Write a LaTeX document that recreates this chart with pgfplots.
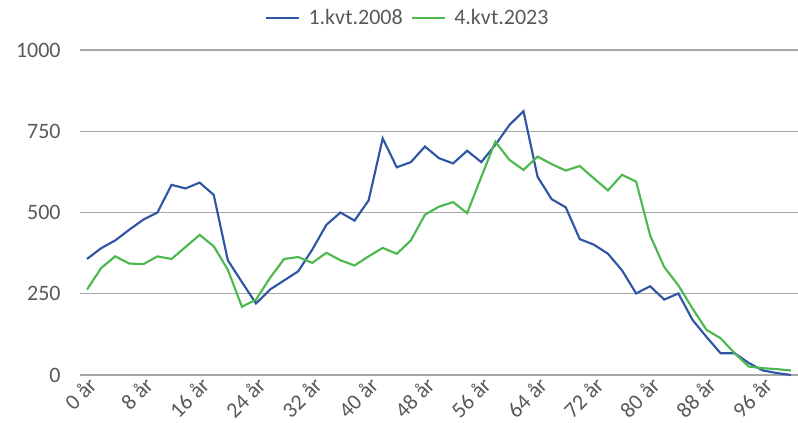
\documentclass[border=0pt]{standalone}
\usepackage{pgfplots}
\pgfplotsset{compat=1.18}
\usepackage{pgfplotstable}
\usepackage{fontspec}
\setmainfont{Carlito}
\definecolor{serA}{HTML}{2F55A4}
\definecolor{serB}{HTML}{4DB84D}
\definecolor{gridc}{HTML}{A6A6A6}
\definecolor{txt}{HTML}{595959}
\pgfplotstableread{
age a b
0 357 263
2 390 329
4 414 365
6 447 343
8 478 341
10 500 365
12 585 357
14 574 394
16 592 431
18 554 396
20 353 324
22 286 210
24 220 232
26 263 299
28 291 357
30 319 363
32 386 345
34 462 376
36 500 353
38 475 337
40 537 365
42 728 391
44 639 373
46 655 414
48 703 493
50 667 518
52 651 532
54 690 498
56 655 609
58 708 718
60 769 662
62 812 631
64 610 672
66 541 649
68 516 629
70 418 643
72 401 605
74 373 568
76 322 616
78 251 595
80 273 429
82 232 332
84 251 276
86 170 205
88 117 139
90 67 113
92 67 67
94 37 26
96 14 21
98 6 18
100 0 14
}\datatable
\begin{document}
\begin{tikzpicture}
\begin{axis}[
  at={(0,0)}, anchor=south west,
  scale only axis,
  width=538.5pt, height=243.75pt,
  xmin=-1, xmax=101,
  ymin=0, ymax=1000,
  axis line style={draw=none},
  major tick length=0pt,
  xtick={0,8,...,96},
  xticklabels={0 år,8 år,16 år,24 år,32 år,40 år,48 år,56 år,64 år,72 år,80 år,88 år,96 år},
  ytick={0,250,500,750,1000},
  ymajorgrids,
  grid style={gridc, line width=1.1pt},
  /pgf/number format/assume math mode=true,
  /pgf/number format/1000 sep={},
  tick label style={font=\fontsize{16.5}{19}\selectfont, text=txt},
  xticklabel style={rotate=45, anchor=east, yshift=-6.5pt, xshift=3pt},
  yticklabel style={xshift=-11pt},
  legend style={at={(0.457,1.098)}, anchor=center, draw=none, fill=none,
    font=\fontsize{16.5}{19}\selectfont, text=txt, legend columns=2,
    /tikz/every odd column/.append style={column sep=4pt},
    /tikz/every even column/.append style={column sep=4pt}},
  legend image code/.code={\draw[#1] (0pt,0pt) -- (25pt,0pt);},
  clip=false,
]
\addplot[serA, line width=1.6pt] table[x=age, y=a] {\datatable};
\addlegendentry{1.kvt.2008}
\addplot[serB, line width=1.6pt] table[x=age, y=b] {\datatable};
\addlegendentry{4.kvt.2023}
\end{axis}
\pgfresetboundingbox
\useasboundingbox (-60pt,-36pt) rectangle (538.5pt,281.25pt);
\end{tikzpicture}
\end{document}
